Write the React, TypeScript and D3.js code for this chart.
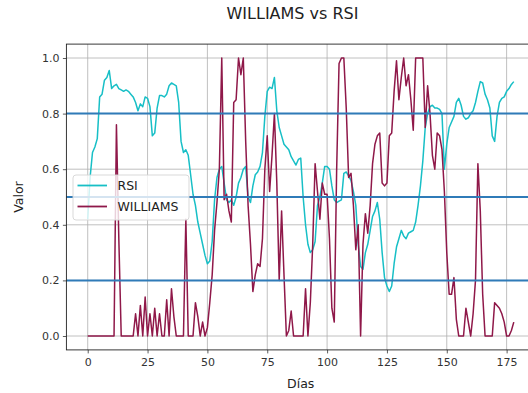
import React, { useEffect, useRef } from "react";
import * as d3 from "d3";

const TITLE = "WILLIAMS vs RSI";
const X_LABEL = "Días";
const Y_LABEL = "Valor";
const SERIES_NAMES = ["RSI", "WILLIAMS"];
const X_TICKS = [0, 25, 50, 75, 100, 125, 150, 175];
const Y_TICKS = [0, 0.2, 0.4, 0.6, 0.8, 1.0];
const LEVELS = [0.2, 0.5, 0.8];

const RSI = [
  0.42, 0.57, 0.66, 0.68, 0.71, 0.86, 0.87, 0.92, 0.93, 0.955,
  0.89, 0.90, 0.905, 0.89, 0.885, 0.88, 0.885, 0.88, 0.87, 0.86,
  0.84, 0.81, 0.835, 0.825, 0.86, 0.855, 0.825, 0.72, 0.73, 0.82,
  0.865, 0.865, 0.86, 0.87, 0.90, 0.91, 0.905, 0.90, 0.84, 0.70,
  0.66, 0.67, 0.65, 0.58, 0.51, 0.47, 0.41, 0.37, 0.33, 0.29,
  0.26, 0.27, 0.34, 0.49, 0.57, 0.60, 0.61, 0.55, 0.49, 0.48,
  0.49, 0.47, 0.50, 0.55, 0.57, 0.60, 0.61, 0.50, 0.48, 0.54,
  0.58, 0.59, 0.61, 0.66, 0.79, 0.88, 0.895, 0.89, 0.93, 0.81,
  0.75, 0.72, 0.69, 0.68, 0.67, 0.645, 0.63, 0.615, 0.635, 0.64,
  0.50, 0.40, 0.33, 0.30, 0.31, 0.34, 0.47, 0.50, 0.55, 0.61,
  0.61, 0.60, 0.54, 0.49, 0.48, 0.485, 0.49, 0.585, 0.59, 0.575,
  0.56, 0.52, 0.47, 0.33, 0.25, 0.24, 0.30, 0.33, 0.38, 0.43,
  0.45, 0.48, 0.42, 0.30, 0.21, 0.18, 0.16, 0.18, 0.26, 0.32,
  0.35, 0.38, 0.36, 0.35, 0.37, 0.375, 0.38, 0.41, 0.47, 0.54,
  0.63, 0.75, 0.80, 0.825, 0.83, 0.82, 0.82, 0.815, 0.80, 0.60,
  0.69, 0.75, 0.77, 0.79, 0.84, 0.855, 0.83, 0.79, 0.78, 0.785,
  0.80, 0.81, 0.84, 0.88, 0.915, 0.91, 0.87, 0.85, 0.82, 0.72,
  0.70, 0.79, 0.84, 0.855, 0.86, 0.88, 0.89, 0.905, 0.915,
];

const WILLIAMS = [
  0, 0, 0, 0, 0, 0, 0, 0, 0, 0,
  0, 0, 0.76, 0.35, 0, 0, 0, 0, 0, 0,
  0.08, 0, 0.11, 0, 0.14, 0, 0.08, 0, 0.10, 0,
  0.08, 0, 0, 0.13, 0, 0.17, 0.07, 0, 0, 0,
  0, 0.42, 0, 0, 0, 0.12, 0.07, 0, 0.05, 0,
  0.03, 0.12, 0.22, 0.38, 0.48, 0.60, 1.0, 0.49, 0.51, 0.45,
  0.41, 0.84, 0.85, 1.0, 0.94, 1.0, 0.70, 0.47, 0.33, 0.16,
  0.22, 0.26, 0.25, 0.35, 0.60, 0.72, 0.52, 0.65, 0.80, 0.55,
  0.20, 0.45, 0.22, 0, 0.02, 0.09, 0, 0, 0, 0,
  0, 0.17, 0, 0.12, 0.33, 0.62, 0.52, 0.42, 0.55, 0.51,
  0.51, 0.35, 0.10, 0.05, 0.60, 0.98, 1.0, 1.0, 0.82, 0.57,
  0.585, 0.47, 0.31, 0.40, 0, 0.33, 0.44, 0.37, 0.47, 0.62,
  0.69, 0.72, 0.73, 0.55, 0.54, 0.55, 0.72, 0.73, 0.88, 0.99,
  0.85, 0.93, 1.0, 0.90, 0.94, 0.85, 0.74, 1.0, 1.0, 1.0,
  1.0, 0.75, 0.90, 0.80, 0.65, 0.60, 0.73, 0.72, 0.67, 0.52,
  0.30, 0.15, 0.15, 0.21, 0.06, 0, 0, 0, 0.10, 0.05,
  0, 0.08, 0.20, 0.62, 0.45, 0.15, 0, 0, 0, 0,
  0.12, 0.11, 0.10, 0.08, 0.05, 0, 0, 0.02, 0.05,
];

const COLORS = ["#17bfc6", "#8f1849"];
const LEVEL_COLOR = "#2f7bb8";

export default function App() {
  const ref = useRef<SVGSVGElement>(null);

  useEffect(() => {
    const svg = d3.select(ref.current);
    svg.selectAll("*").remove();
    const font = "DejaVu Sans, sans-serif";

    const left = 66.4, right = 535.1, top = 44.1, bottom = 349.9;
    const n = RSI.length;
    const pad = (n - 1) * 0.05;
    const x = d3.scaleLinear().domain([-pad, n - 1 + pad]).range([left, right]);
    const y = d3.scaleLinear().domain([-0.05, 1.05]).range([bottom, top]);

    svg.append("rect").attr("width", 528).attr("height", 393).attr("fill", "#fff");

    // grid
    const grid = svg.append("g");
    X_TICKS.forEach((t) => {
      grid.append("line")
        .attr("x1", x(t)).attr("x2", x(t)).attr("y1", top).attr("y2", bottom)
        .attr("stroke", "#b0b0b0").attr("stroke-width", 0.8);
    });
    Y_TICKS.forEach((t) => {
      grid.append("line")
        .attr("x1", left).attr("x2", right).attr("y1", y(t)).attr("y2", y(t))
        .attr("stroke", "#b0b0b0").attr("stroke-width", 0.8);
    });

    // series
    const series = [RSI, WILLIAMS];
    series.forEach((data, k) => {
      const line = d3.line<number>().x((_, i) => x(i)).y((v) => y(v));
      svg.append("path")
        .attr("d", line(data) as string)
        .attr("fill", "none")
        .attr("stroke", COLORS[k])
        .attr("stroke-width", 1.5)
        .attr("stroke-linejoin", "round");
    });

    // levels
    LEVELS.forEach((v) => {
      svg.append("line")
        .attr("x1", left).attr("x2", right).attr("y1", y(v)).attr("y2", y(v))
        .attr("stroke", LEVEL_COLOR).attr("stroke-width", 2);
    });

    // axes
    const xAxis = d3.axisBottom(x).tickValues(X_TICKS).tickSize(3.5).tickSizeOuter(0).tickPadding(5)
      .tickFormat(d3.format("d") as any);
    const gx = svg.append("g").attr("transform", `translate(0,${bottom})`).call(xAxis);
    const yAxis = d3.axisLeft(y).tickValues(Y_TICKS).tickSize(3.5).tickSizeOuter(0).tickPadding(3.5)
      .tickFormat(d3.format(".1f") as any);
    const gy = svg.append("g").attr("transform", `translate(${left},0)`).call(yAxis);
    [gx, gy].forEach((g) => {
      g.select(".domain").remove();
      g.selectAll("line").attr("stroke", "#333").attr("stroke-width", 0.8);
      g.selectAll("text").attr("fill", "#333").style("font-family", font).style("font-size", "11px");
    });

    // spines
    svg.append("rect")
      .attr("x", left).attr("y", top).attr("width", right - left).attr("height", bottom - top)
      .attr("fill", "none").attr("stroke", "#222").attr("stroke-width", 0.9);

    // legend
    const lg = svg.append("g");
    lg.append("rect")
      .attr("x", 73).attr("y", 175).attr("width", 116).attr("height", 45).attr("rx", 3)
      .attr("fill", "#fff").attr("fill-opacity", 0.8).attr("stroke", "#d5d5d5").attr("stroke-width", 0.9);
    SERIES_NAMES.forEach((name, k) => {
      const yy = 185.5 + k * 21;
      lg.append("line").attr("x1", 77.5).attr("x2", 107).attr("y1", yy).attr("y2", yy)
        .attr("stroke", COLORS[k]).attr("stroke-width", 1.8);
      lg.append("text").attr("x", 117.5).attr("y", yy).attr("dy", "0.36em")
        .attr("fill", "#222").style("font-family", font).style("font-size", "12.5px").text(name);
    });

    // title & labels
    svg.append("text").attr("x", 292.5).attr("y", 19).attr("text-anchor", "middle")
      .attr("fill", "#222").style("font-family", font).style("font-size", "16px").text(TITLE);
    svg.append("text").attr("x", (left + right) / 2).attr("y", 388).attr("text-anchor", "middle")
      .attr("fill", "#222").style("font-family", font).style("font-size", "12.5px").text(X_LABEL);
    svg.append("text")
      .attr("transform", `translate(23,${(top + bottom) / 2}) rotate(-90)`)
      .attr("text-anchor", "middle")
      .attr("fill", "#222").style("font-family", font).style("font-size", "12.5px").text(Y_LABEL);
  }, []);

  return (
    <svg
      ref={ref}
      width={528}
      height={393}
      style={{ position: "absolute", left: 0, top: 0, display: "block" }}
    />
  );
}
